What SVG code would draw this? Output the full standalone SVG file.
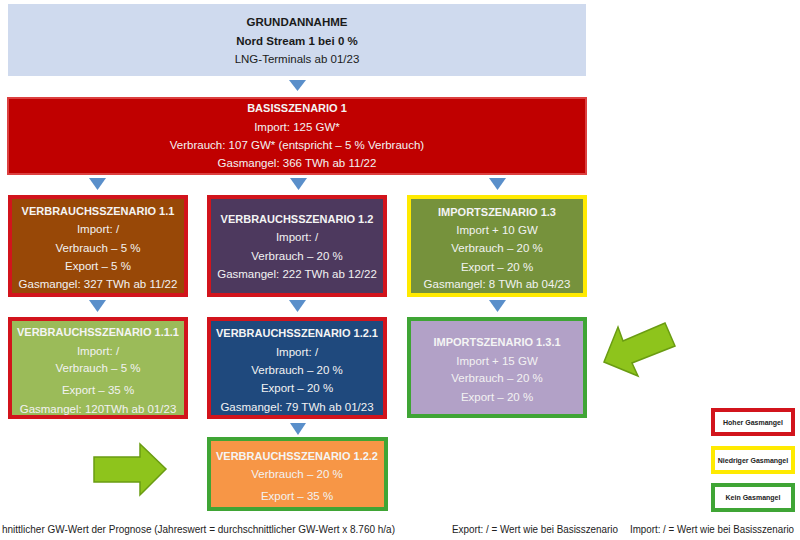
<svg xmlns="http://www.w3.org/2000/svg" width="800" height="540" viewBox="0 0 800 540">
<defs>
<style>
text{font-family:"Liberation Sans",Arial,sans-serif;text-anchor:middle}
.t{font-size:11px;font-weight:bold;fill:#f4f4f4}
.b{font-size:11.5px;fill:#f2f2f2}
.dk{fill:#1a1a1a}
.hb{stroke:#d2141c;stroke-width:4}
.yb{stroke:#ffea00;stroke-width:4}
.gb{stroke:#3fa535;stroke-width:4}
.tri{fill:#5a8fca}
.arr{fill:#8ec41c;stroke:#6a9c12;stroke-width:1.5}
.lg{font-size:7px;font-weight:bold;fill:#222}
.ft{font-size:10.5px;fill:#222;text-anchor:start}
</style>
</defs>
<rect width="800" height="540" fill="#ffffff"/>
<g id="connectors">
<polygon class="tri" points="289,80 306,80 297.5,91"/>
<polygon class="tri" points="89,178 106,178 97.5,190"/>
<polygon class="tri" points="290,178 307,178 298.5,190"/>
<polygon class="tri" points="489,178 506,178 497.5,190"/>
<polygon class="tri" points="89,300 106,300 97.5,312"/>
<polygon class="tri" points="289,300 306,300 297.5,312"/>
<polygon class="tri" points="489,300 506,300 497.5,312"/>
<polygon class="tri" points="290,423 306,423 298,435"/>
</g>
<g id="grundannahme">
<rect x="8" y="4" width="578" height="72" fill="#cfdaee"/>
<text x="297" y="26" class="dk" style="font-size:11.5px;font-weight:bold">GRUNDANNAHME</text>
<text x="297" y="45" class="dk" style="font-size:11.5px;font-weight:bold">Nord Stream 1 bei 0 %</text>
<text x="297" y="63" class="dk" style="font-size:11.5px">LNG-Terminals ab 01/23</text>
</g>
<g id="basis1">
<rect x="8" y="98" width="578" height="76" fill="#c00000" stroke="#dc4040" stroke-width="2"/>
<text x="297" y="112" class="t">BASISSZENARIO 1</text>
<text x="297" y="131" class="b">Import: 125 GW*</text>
<text x="297" y="149" class="b">Verbrauch: 107 GW* (entspricht – 5 % Verbrauch)</text>
<text x="297" y="167" class="b">Gasmangel: 366 TWh ab 11/22</text>
</g>
<g id="vs11">
<rect x="10" y="197" width="176" height="98" fill="#984807" class="hb"/>
<text x="98" y="215" class="t">VERBRAUCHSSZENARIO 1.1</text>
<text x="98" y="233" class="b">Import: /</text>
<text x="98" y="252" class="b">Verbrauch – 5 %</text>
<text x="98" y="270" class="b">Export – 5 %</text>
<text x="98" y="288" class="b">Gasmangel: 327 TWh ab 11/22</text>
</g>
<g id="vs12">
<rect x="209" y="197" width="176" height="98" fill="#4d395e" class="hb"/>
<text x="297" y="223" class="t">VERBRAUCHSSZENARIO 1.2</text>
<text x="297" y="241" class="b">Import: /</text>
<text x="297" y="260" class="b">Verbrauch – 20 %</text>
<text x="297" y="278" class="b">Gasmangel: 222 TWh ab 12/22</text>
</g>
<g id="is13">
<rect x="409" y="197" width="176" height="98" fill="#76923c" class="yb"/>
<text x="497" y="216" class="t">IMPORTSZENARIO 1.3</text>
<text x="497" y="234" class="b">Import + 10 GW</text>
<text x="497" y="252" class="b">Verbrauch – 20 %</text>
<text x="497" y="271" class="b">Export – 20 %</text>
<text x="497" y="288" class="b">Gasmangel: 8 TWh ab 04/23</text>
</g>
<g id="vs111">
<rect x="10" y="319" width="176" height="98" fill="#9bbb59" class="hb"/>
<text x="98" y="336" class="t">VERBRAUCHSSZENARIO 1.1.1</text>
<text x="98" y="355" class="b">Import: /</text>
<text x="98" y="372" class="b">Verbrauch – 5 %</text>
<text x="98" y="394" class="b">Export – 35 %</text>
<text x="98" y="413" class="b">Gasmangel: 120TWh ab 01/23</text>
</g>
<g id="vs121">
<rect x="209" y="319" width="176" height="98" fill="#1f497d" class="hb"/>
<text x="297" y="337" class="t">VERBRAUCHSSZENARIO 1.2.1</text>
<text x="297" y="356" class="b">Import: /</text>
<text x="297" y="374" class="b">Verbrauch – 20 %</text>
<text x="297" y="392" class="b">Export – 20 %</text>
<text x="297" y="411" class="b">Gasmangel: 79 TWh ab 01/23</text>
</g>
<g id="is131">
<rect x="409" y="319" width="176" height="97" fill="#b2a1c7" class="gb"/>
<text x="497" y="346" class="t">IMPORTSZENARIO 1.3.1</text>
<text x="497" y="365" class="b">Import + 15 GW</text>
<text x="497" y="382" class="b">Verbrauch – 20 %</text>
<text x="497" y="401" class="b">Export – 20 %</text>
</g>
<g id="vs122">
<rect x="209" y="439" width="177" height="70" fill="#f79646" class="gb"/>
<text x="297" y="460" class="t">VERBRAUCHSSZENARIO 1.2.2</text>
<text x="297" y="478" class="b">Verbrauch – 20 %</text>
<text x="297" y="500" class="b">Export – 35 %</text>
</g>
<g id="arrows">
<polygon class="arr" points="94,457 140,457 140,444 166,469 140,495 140,482 94,482"/>
<polygon class="arr" points="604,362 618,327 623,341 665,323 675,346 632,363 638,376"/>
</g>
<g id="legend">
<rect x="713" y="410" width="80" height="24" fill="#fff" class="hb"/>
<text x="753" y="425" class="lg">Hoher Gasmangel</text>
<rect x="713" y="448" width="80" height="24" fill="#fff" class="yb"/>
<text x="753" y="463" class="lg">Niedriger Gasmangel</text>
<rect x="713" y="485" width="80" height="25" fill="#fff" class="gb"/>
<text x="753" y="500" class="lg">Kein Gasmangel</text>
</g>
<g id="footer">
<text x="2" y="533" class="ft" textLength="393" lengthAdjust="spacingAndGlyphs">hnittlicher GW-Wert der Prognose (Jahreswert = durchschnittlicher GW-Wert x 8.760 h/a)</text>
<text x="452" y="533" class="ft" textLength="166" lengthAdjust="spacingAndGlyphs">Export: / = Wert wie bei Basisszenario</text>
<text x="630" y="533" class="ft" textLength="164" lengthAdjust="spacingAndGlyphs">Import: / = Wert wie bei Basisszenario</text>
</g>
</svg>
